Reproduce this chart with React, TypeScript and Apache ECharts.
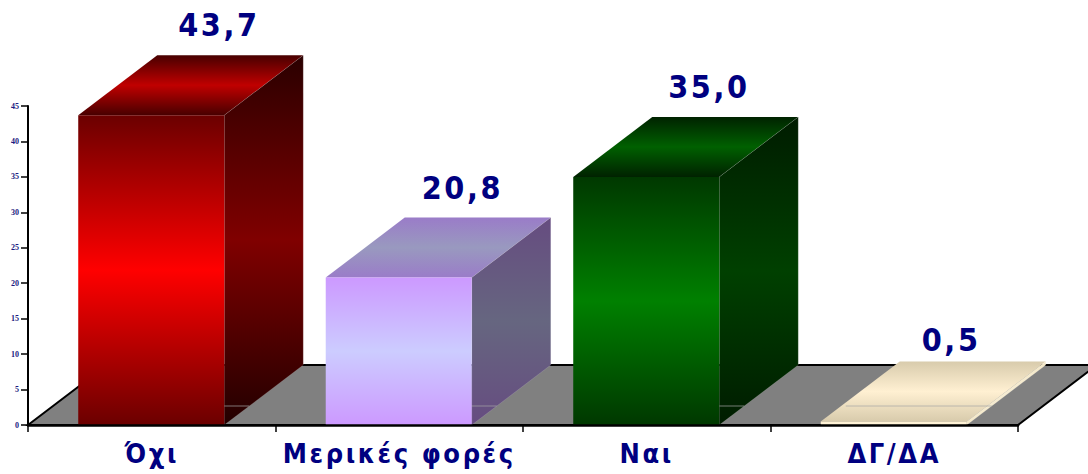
import React, { useEffect, useRef } from "react";
import * as echarts from "echarts";

const categories = ["Όχι", "Μερικές φορές", "Ναι", "ΔΓ/ΔΑ"];
const values = [43.7, 20.8, 35.0, 0.5];
const valueLabels = ["43,7", "20,8", "35,0", "0,5"];

const frontColors = [
  ["#6b0000", "#ff0000", "#6b0000"],
  ["#cc99ff", "#ccccff", "#cc99ff"],
  ["#003800", "#008000", "#003800"],
  ["#fff0cc", "#fff4da", "#fff0cc"],
];
const sideColors = [
  ["#2a0000", "#800000", "#220000"],
  ["#664c80", "#666680", "#664c80"],
  ["#001c00", "#004000", "#001c00"],
  ["#f4e8c8", "#f6ecd2", "#f4e8c8"],
];
const topColors = [
  ["#480000", "#c00000", "#480000"],
  ["#9a7cc8", "#9999bf", "#9a7cc8"],
  ["#002200", "#006000", "#002200"],
  ["#d8cbac", "#fff0d2", "#d8cbac"],
];

const DEPTH_X = 79;
const DEPTH_Y = 60;
const BAR_RATIO = 0.59;
const TEXT = "#000080";
const FONT = "'DejaVu Sans Condensed', 'DejaVu Sans', sans-serif";
const LABEL_NUDGE = [0, -4, -5, 1];

const grad = (c: string[]) => ({
  type: "linear", x: 0, y: 0, x2: 0, y2: 1,
  colorStops: [
    { offset: 0, color: c[0] },
    { offset: 0.5, color: c[1] },
    { offset: 1, color: c[2] },
  ],
});

export default function App() {
  const ref = useRef<HTMLDivElement>(null);
  useEffect(() => {
    document.body.style.margin = "0";
    const chart = echarts.init(ref.current!, undefined, { renderer: "svg" });

    const renderFloor = (params: any) => {
      const { x, y, width, height } = params.coordSys;
      const y0 = y + height;
      return {
        type: "group",
        children: [
          {
            type: "polygon",
            shape: { points: [[x, y0], [x + DEPTH_X, y0 - DEPTH_Y], [x + width + DEPTH_X, y0 - DEPTH_Y], [x + width, y0]] },
            style: { fill: "#808080", stroke: "#000", lineWidth: 2 },
          },
        ],
      };
    };

    const renderBar = (params: any, api: any) => {
      const i = params.dataIndex;
      const base = api.coord([api.value(0), 0]);
      const tip = api.coord([api.value(0), api.value(1)]);
      const w = api.size([1, 0])[0] * BAR_RATIO;
      const l = base[0] - w / 2 - 0.5;
      const r = base[0] + w / 2 - 0.5;
      const b = base[1];
      const t = tip[1];
      const lineY = b - 19;
      const lineDx = (19 * DEPTH_X) / DEPTH_Y;
      const lift = b - t < 10 ? 81 : 90;
      return {
        type: "group",
        children: [
          {
            type: "polygon",
            shape: { points: [[l, t], [l + DEPTH_X, t - DEPTH_Y], [r + DEPTH_X, t - DEPTH_Y], [r, t]] },
            style: { fill: grad(topColors[i]) },
          },
          {
            type: "polygon",
            shape: { points: [[r, t], [r + DEPTH_X, t - DEPTH_Y], [r + DEPTH_X, b - DEPTH_Y], [r, b]] },
            style: { fill: grad(sideColors[i]), stroke: "rgba(255,255,255,0.25)", lineWidth: 0.5 },
          },
          {
            type: "line",
            shape: { x1: l + lineDx, y1: lineY, x2: r + lineDx, y2: lineY },
            style: { stroke: "rgba(166,166,166,0.7)", lineWidth: 1 },
          },
          {
            type: "rect",
            shape: { x: l, y: t, width: r - l, height: b - t },
            style: { fill: grad(frontColors[i]) },
          },
          {
            type: "text",
            style: {
              x: l + 100 + LABEL_NUDGE[i],
              y: t - lift,
              text: valueLabels[i],
              fill: TEXT,
              font: `bold 32px ${FONT}`,
              align: "left",
              verticalAlign: "middle",
            },
          },
        ],
      };
    };

    chart.setOption({
      animation: false,
      backgroundColor: "#fff",
      grid: { left: 28, right: 70, top: 106, bottom: 49 },
      xAxis: {
        type: "category",
        data: categories,
        z: 5,
        axisLine: { lineStyle: { color: "#000", width: 2.5 } },
        axisTick: { show: true, alignWithLabel: false, length: 7, lineStyle: { color: "#000", width: 1.5 } },
        axisLabel: { interval: 0, color: TEXT, fontFamily: FONT, fontWeight: "bold", fontSize: 27, margin: 15 },
      },
      yAxis: {
        type: "value",
        min: 0,
        max: 45,
        interval: 5,
        z: 5,
        splitLine: { show: false },
        axisLine: { show: true, lineStyle: { color: "#000", width: 2 } },
        axisTick: { show: true, length: 7, lineStyle: { color: "#000", width: 1.5 } },
        axisLabel: { color: "#1a1a80", fontFamily: "'Liberation Serif', serif", fontWeight: "bold", fontSize: 8, margin: 9 },
      },
      series: [
        { type: "custom", z: 1, silent: true, data: [[0, 0]], renderItem: renderFloor, encode: { x: 0, y: 1 } },
        {
          type: "custom",
          z: 2,
          silent: true,
          data: values.map((v, i) => [i, v]),
          renderItem: renderBar,
          encode: { x: 0, y: 1 },
        },
      ],
    });
    return () => chart.dispose();
  }, []);
  return (
    <>
      <style>{`svg text { letter-spacing: 2.6px; } svg text[style*=" 8px"] { letter-spacing: 0; }`}</style>
      <div ref={ref} style={{ width: 1088, height: 474 }} />
    </>
  );
}
